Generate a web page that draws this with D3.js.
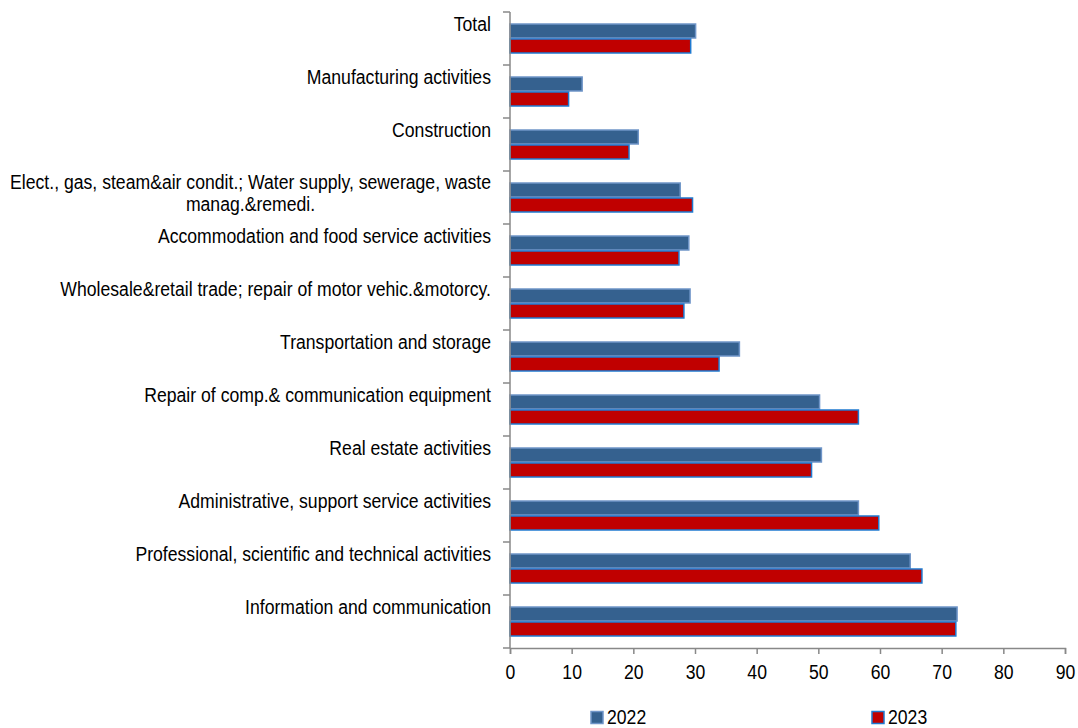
<!DOCTYPE html>
<html><head><meta charset="utf-8">
<script src="https://cdn.jsdelivr.net/npm/d3@7"></script>
<style>
body{margin:0;background:#fff;}
text{font-family:"Liberation Sans",Arial,sans-serif;fill:#000;}
</style></head><body>
<svg id="chart" width="1078" height="728"></svg>
<script>
const categories = [
  ["Total"],
  ["Manufacturing activities"],
  ["Construction"],
  ["Elect., gas, steam&air condit.; Water supply, sewerage, waste", "manag.&remedi."],
  ["Accommodation and food service activities"],
  ["Wholesale&retail trade; repair of motor vehic.&motorcy."],
  ["Transportation and storage"],
  ["Repair of comp.& communication equipment"],
  ["Real estate activities"],
  ["Administrative, support service activities"],
  ["Professional, scientific and technical activities"],
  ["Information and communication"]
];
const series = ["2022", "2023"];
const values2022 = [30.1, 11.7, 20.8, 27.6, 29.0, 29.2, 37.2, 50.2, 50.5, 56.5, 64.9, 72.5];
const values2023 = [29.3, 9.5, 19.3, 29.6, 27.4, 28.2, 33.9, 56.5, 48.9, 59.8, 66.8, 72.3];
const xTicks = [0, 10, 20, 30, 40, 50, 60, 70, 80, 90];

(function () {
const fills = {"2022": "#35618f", "2023": "#c00000"};
const strokes = {"2022": "#6f95c8", "2023": "#1f7ad0"};
const FS = 21, SX = 0.84;

const svg = d3.select("#chart");
const pLeft = 510, pRight = 1065, pTop = 12, pBottom = 648;

const x = d3.scaleLinear().domain([0, 90]).range([pLeft, pRight]);
const y = d3.scaleBand().domain(d3.range(categories.length)).range([pTop, pBottom]).paddingInner(0.434).paddingOuter(0.217);
const inner = d3.scaleBand().domain(series).range([0, y.bandwidth()]);

const g = svg.append("g");
categories.forEach((c, i) => {
  const vals = {"2022": values2022[i], "2023": values2023[i]};
  series.forEach(s => {
    g.append("rect")
      .attr("x", x(0))
      .attr("y", y(i) + inner(s) + 0.5)
      .attr("width", x(vals[s]) - x(0))
      .attr("height", inner.bandwidth() - 1)
      .attr("fill", fills[s])
      .attr("stroke", strokes[s])
      .attr("stroke-width", 1.5);
  });
});

// x axis
const xAxis = d3.axisBottom(x).tickValues(xTicks).tickSize(6).tickPadding(5).tickFormat(d3.format("d"));
const xg = svg.append("g").attr("transform", `translate(0,${pBottom})`).call(xAxis);
xg.select(".domain").attr("stroke", "#888").attr("stroke-width", 1.5);
xg.selectAll(".tick line").attr("stroke", "#888").attr("stroke-width", 1.5);
xg.selectAll(".tick text")
  .attr("font-size", FS).attr("font-family", null)
  .attr("y", 0).attr("dy", 0)
  .attr("transform", `translate(0,30.5) scale(${SX},1)`)
  .style("font-family", "'Liberation Sans',Arial,sans-serif").attr("fill", "#000");

// y axis line with ticks at category boundaries
const band = (pBottom - pTop) / categories.length;
const boundaries = d3.range(categories.length + 1).map(i => pTop + i * band);
svg.append("line").attr("x1", pLeft).attr("x2", pLeft).attr("y1", pTop).attr("y2", pBottom)
  .attr("stroke", "#888").attr("stroke-width", 1.5);
svg.selectAll(".ytick").data(boundaries).enter().append("line")
  .attr("x1", pLeft - 7).attr("x2", pLeft).attr("y1", d => d).attr("y2", d => d)
  .attr("stroke", "#888").attr("stroke-width", 1.5);

// category labels
categories.forEach((lines, i) => {
  const base = pTop + i * band + (lines.length > 1 ? 17.5 : 18.5);
  const t = svg.append("text")
    .attr("text-anchor", "end")
    .attr("font-size", FS)
    .attr("transform", `translate(491,${base}) scale(${SX},1)`);
  lines.forEach((l, j) => {
    t.append("tspan").attr("x", 0).attr("y", j * 23).text(l);
  });
  if (lines.length > 1) {
    const w = t.select("tspan").node().getComputedTextLength();
    t.selectAll("tspan").filter((d, j) => j > 0)
      .attr("x", -w / 2).attr("text-anchor", "middle");
  }
});

// legend
const legendX = {"2022": 591, "2023": 872};
series.forEach(s => {
  svg.append("rect").attr("x", legendX[s]).attr("y", 711.5).attr("width", 12).attr("height", 12)
    .attr("fill", fills[s]).attr("stroke", strokes[s]).attr("stroke-width", 1.5);
  svg.append("text").attr("font-size", FS)
    .attr("transform", `translate(${legendX[s] + 16},723.5) scale(${SX},1)`).text(s);
});
})();
</script>
</body></html>
